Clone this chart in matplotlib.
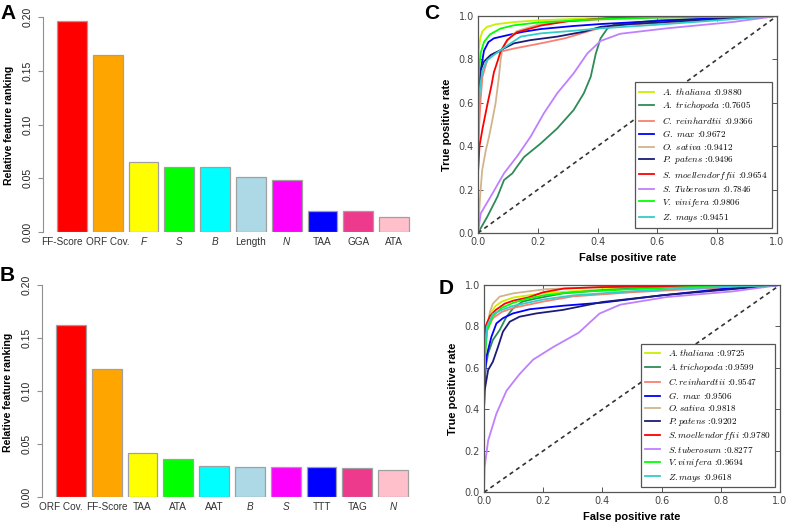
import matplotlib
matplotlib.use("Agg")
import matplotlib.pyplot as plt
import matplotlib.transforms as mtransforms

W, H = 796, 522

# --- panels A and B: feature ranking bars ---
a_labels = ["FF-Score", "ORF Cov.", "F", "S", "B", "Length", "N", "TAA", "GGA", "ATA"]
a_values = [0.197, 0.1646, 0.0649, 0.0606, 0.0602, 0.0516, 0.0481, 0.0199, 0.0193, 0.0140]
b_labels = ["ORF Cov.", "FF-Score", "TAA", "ATA", "AAT", "B", "S", "TTT", "TAG", "N"]
b_values = [0.1623, 0.1204, 0.0415, 0.0355, 0.0289, 0.0286, 0.0283, 0.0280, 0.0270, 0.0255]
italic_feats = ["F", "S", "B", "N"]
bar_colors = ["#FF0000", "#FFA500", "#FFFF00", "#00FF00", "#00FFFF",
              "#ADD8E6", "#FF00FF", "#0000FF", "#EE3A8C", "#FFC0CB"]
bar_ticks = [0.0, 0.05, 0.10, 0.15, 0.20]

# --- panels C and D: ROC curves, (fpr, tpr) points ---
c_species = ["A.\\ thaliana", "A.\\ trichopoda", "C.\\ reinhardtii", "G.\\ max", "O.\\ sativa",
             "P.\\ patens", "S.\\ moellendorffii", "S.\\ Tuberosum", "V.\\ vinifera", "Z.\\ mays"]
c_auc = ["0.9880", "0.7605", "0.9366", "0.9672", "0.9412", "0.9496", "0.9654", "0.7846", "0.9806", "0.9451"]
d_species = ["A.thaliana", "A.trichopoda", "C.reinhardtii", "G.\\ max", "O.sativa",
             "P.patens", "S.moellendorffii", "S.tuberosum", "V.vinifera", "Z.mays"]
d_auc = ["0.9725", "0.9599", "0.9547", "0.9506", "0.9818", "0.9202", "0.9780", "0.8277", "0.9694", "0.9618"]
roc_colors = ["#ccee00", "#2e8b57", "#fa8072", "#0000ff", "#d2b48c",
              "#1c1c78", "#ff0000", "#bf80ff", "#00ff00", "#33cccc"]

C_ATH = [(0, 0), (0, 0.75), (0.003, 0.85), (0.008, 0.9), (0.015, 0.93), (0.03, 0.95), (0.06, 0.962),
         (0.12, 0.972), (0.2, 0.98), (0.35, 0.988), (0.5, 0.993), (0.7, 0.997), (1, 1)]
C_ATR = [(0, 0), (0.031, 0.075), (0.065, 0.167), (0.087, 0.244), (0.115, 0.275), (0.13, 0.305),
         (0.154, 0.35), (0.21, 0.413), (0.265, 0.482), (0.32, 0.567), (0.354, 0.644), (0.377, 0.72),
         (0.394, 0.827), (0.41, 0.897), (0.433, 0.943), (0.455, 0.96), (0.6, 0.98), (0.8, 0.99), (1, 1)]
C_CRE = [(0, 0), (0, 0.25), (0.004, 0.5), (0.009, 0.62), (0.015, 0.72), (0.031, 0.797), (0.053, 0.828),
         (0.076, 0.836), (0.12, 0.85), (0.21, 0.874), (0.29, 0.897), (0.366, 0.928), (0.42, 0.95),
         (0.5, 0.96), (0.7, 0.975), (0.85, 0.99), (1, 1)]
C_GMA = [(0, 0), (0, 0.6), (0.004, 0.68), (0.009, 0.75), (0.02, 0.84), (0.035, 0.88), (0.053, 0.897),
         (0.1, 0.912), (0.15, 0.927), (0.21, 0.94), (0.32, 0.954), (0.41, 0.963), (0.6, 0.977),
         (0.8, 0.99), (1, 1)]
C_OSA = [(0, 0), (0.007, 0.167), (0.014, 0.29), (0.026, 0.38), (0.037, 0.444), (0.048, 0.52),
         (0.059, 0.6), (0.07, 0.72), (0.076, 0.8), (0.081, 0.843), (0.092, 0.874), (0.11, 0.905),
         (0.13, 0.93), (0.2, 0.96), (0.3, 0.975), (0.5, 0.99), (1, 1)]
C_PPA = [(0, 0), (0, 0.55), (0.003, 0.65), (0.009, 0.75), (0.02, 0.79), (0.042, 0.82), (0.076, 0.843),
         (0.12, 0.874), (0.176, 0.889), (0.265, 0.905), (0.355, 0.928), (0.41, 0.95), (0.5, 0.962),
         (0.7, 0.978), (0.85, 0.99), (1, 1)]
C_SMO = [(0, 0), (0, 0.28), (0.005, 0.4), (0.015, 0.48), (0.031, 0.59), (0.045, 0.68), (0.053, 0.74),
         (0.065, 0.79), (0.076, 0.838), (0.098, 0.89), (0.13, 0.925), (0.21, 0.956), (0.3, 0.976),
         (0.43, 0.99), (0.6, 0.995), (1, 1)]
C_STU = [(0, 0), (0.009, 0.09), (0.042, 0.167), (0.087, 0.275), (0.13, 0.352), (0.176, 0.444),
         (0.22, 0.551), (0.265, 0.644), (0.32, 0.736), (0.366, 0.828), (0.41, 0.885), (0.475, 0.918),
         (0.63, 0.943), (0.85, 0.972), (1, 1)]
C_VVI = [(0, 0), (0, 0.65), (0.004, 0.76), (0.009, 0.83), (0.02, 0.88), (0.04, 0.915), (0.075, 0.942),
         (0.12, 0.957), (0.2, 0.97), (0.4, 0.985), (0.6, 0.993), (1, 1)]
C_ZMA = [(0, 0), (0, 0.45), (0.002, 0.57), (0.007, 0.675), (0.015, 0.75), (0.031, 0.797), (0.053, 0.82),
         (0.076, 0.843), (0.109, 0.874), (0.143, 0.905), (0.21, 0.92), (0.32, 0.932), (0.41, 0.943),
         (0.6, 0.96), (0.8, 0.98), (1, 1)]

D_ATH = [(0, 0), (0, 0.6), (0.01, 0.8), (0.02, 0.86), (0.04, 0.9), (0.06, 0.92), (0.1, 0.94),
         (0.2, 0.96), (0.4, 0.98), (0.6, 0.99), (1, 1)]
D_ATR = [(0, 0), (0, 0.4), (0.005, 0.6), (0.014, 0.67), (0.03, 0.735), (0.053, 0.783), (0.076, 0.847),
         (0.098, 0.887), (0.13, 0.92), (0.177, 0.935), (0.267, 0.96), (0.4, 0.975), (0.6, 0.99), (1, 1)]
D_CRE = [(0, 0), (0, 0.6), (0.01, 0.78), (0.03, 0.84), (0.06, 0.87), (0.1, 0.89), (0.2, 0.92),
         (0.3, 0.945), (0.5, 0.965), (0.7, 0.98), (1, 1)]
D_GMA = [(0, 0), (0, 0.5), (0.008, 0.654), (0.025, 0.75), (0.042, 0.815), (0.064, 0.84), (0.098, 0.863),
         (0.154, 0.883), (0.267, 0.9), (0.4, 0.915), (0.6, 0.95), (0.7, 0.965), (0.8, 0.98), (1, 1)]
D_OSA = [(0, 0), (0, 0.5), (0.005, 0.7), (0.012, 0.8), (0.02, 0.87), (0.03, 0.91), (0.053, 0.944),
         (0.1, 0.96), (0.154, 0.97), (0.21, 0.98), (0.4, 0.99), (0.6, 0.995), (1, 1)]
D_PPA = [(0, 0), (0, 0.4), (0.002, 0.49), (0.014, 0.59), (0.03, 0.63), (0.047, 0.70), (0.064, 0.775),
         (0.087, 0.823), (0.12, 0.847), (0.177, 0.863), (0.267, 0.88), (0.4, 0.918), (0.6, 0.95),
         (0.8, 0.975), (1, 1)]
D_SMO = [(0, 0), (0, 0.7), (0.005, 0.8), (0.02, 0.85), (0.04, 0.88), (0.07, 0.91), (0.1, 0.925),
         (0.15, 0.94), (0.2, 0.965), (0.27, 0.983), (0.4, 0.99), (0.7, 0.996), (1, 1)]
D_STU = [(0, 0), (0.002, 0.12), (0.014, 0.25), (0.042, 0.38), (0.076, 0.49), (0.12, 0.57),
         (0.166, 0.64), (0.233, 0.70), (0.32, 0.77), (0.39, 0.862), (0.46, 0.905), (0.617, 0.942),
         (0.84, 0.969), (1, 1)]
D_VVI = [(0, 0), (0, 0.6), (0.01, 0.78), (0.03, 0.85), (0.06, 0.89), (0.1, 0.915), (0.15, 0.935),
         (0.2, 0.95), (0.3, 0.965), (0.5, 0.98), (0.7, 0.99), (1, 1)]
D_ZMA = [(0, 0), (0, 0.65), (0.01, 0.8), (0.03, 0.86), (0.06, 0.88), (0.1, 0.9), (0.2, 0.93),
         (0.3, 0.95), (0.5, 0.97), (0.7, 0.985), (1, 1)]

curves_c = [C_ATH, C_ATR, C_CRE, C_GMA, C_OSA, C_PPA, C_SMO, C_STU, C_VVI, C_ZMA]
curves_d = [D_ATH, D_ATR, D_CRE, D_GMA, D_OSA, D_PPA, D_SMO, D_STU, D_VVI, D_ZMA]

plt.rcParams['mathtext.fontset'] = 'cm'
SANS = ['Liberation Sans', 'DejaVu Sans']

fig = plt.figure(figsize=(W / 100, H / 100), dpi=100)


def px_axes(l, t, r, b):
    return fig.add_axes([l / W, 1 - b / H, (r - l) / W, (b - t) / H])


def bar_panel(box, labels, values, ylab_x, ylab_y):
    ax = px_axes(*box)
    pos = list(range(len(values)))
    ax.bar(pos, values, width=1 / 1.2, color=bar_colors, edgecolor="#a0a0a0", linewidth=0.9)
    ax.set_xlim(-0.81, 9.81)
    ax.set_ylim(0, 0.2)
    for s in ["top", "right", "bottom"]:
        ax.spines[s].set_visible(False)
    ax.spines["left"].set_color("#909090")
    ax.set_yticks(bar_ticks)
    ax.set_yticklabels(["%.2f" % t for t in bar_ticks], rotation=90, va="center",
                       fontsize=7.5, family=SANS, color="#222222")
    ax.tick_params(axis="y", length=3.5, color="#909090", pad=4)
    ax.set_xticks([])
    # feature names under the bars; the first one sits a little to the left, as in the figure
    trans = mtransforms.blended_transform_factory(ax.transData, ax.transAxes)
    for i, lab in enumerate(labels):
        t = ax.text(i, -0.025, lab, transform=trans, ha="center", va="top",
                    fontsize=7.2, family=SANS, color="#333333",
                    style="italic" if lab in italic_feats else "normal")
        if i == 0:
            t.set_transform(trans + mtransforms.ScaledTranslation(-10.5 / 100, 0, fig.dpi_scale_trans))
    fig.text(ylab_x / W, 1 - ylab_y / H, "Relative feature ranking", rotation=90,
             ha="center", va="center", fontsize=7.6, weight="bold", family=SANS)
    return ax


def roc_panel(box, curves, species, aucs, xlab_y, ylab_x):
    ax = px_axes(*box)
    for pts, name, auc, col in zip(curves, species, aucs, roc_colors):
        xs = [p[0] for p in pts]
        ys = [p[1] for p in pts]
        ax.plot(xs, ys, color=col, lw=1.3, label=r"$%s$ :%s" % (name, auc))
    ax.plot([0, 1], [0, 1], color="#333333", lw=1.2, ls=(0, (2.5, 2.2)))
    ax.set_xlim(0, 1)
    ax.set_ylim(0, 1)
    ticks = [0.0, 0.2, 0.4, 0.6, 0.8, 1.0]
    ax.set_xticks(ticks)
    ax.set_yticks(ticks)
    ax.tick_params(direction="in", top=True, right=True, length=3.5, width=0.7,
                   labelsize=7, labelcolor="#444444", color="#555555", pad=3)
    for s in ax.spines.values():
        s.set_color("#555555")
        s.set_linewidth(0.9)
    leg = ax.legend(loc="lower right", bbox_to_anchor=(0.983, 0.024), borderaxespad=0,
                    prop={"family": ["cmr10", "DejaVu Serif"], "size": 6.6},
                    fancybox=False, framealpha=1, edgecolor="#555555",
                    handlelength=1.7, handletextpad=0.9, labelspacing=0.27, borderpad=0.4)
    leg.get_frame().set_linewidth(0.9)
    x0, y0, x1, y1 = box
    fig.text(((x0 + x1) / 2) / W, 1 - xlab_y / H, "False positive rate", ha="center", va="center",
             fontsize=8, weight="bold", family=SANS)
    fig.text(ylab_x / W, 1 - ((y0 + y1) / 2) / H, "True positive rate", rotation=90,
             ha="center", va="center", fontsize=8, weight="bold", family=SANS)
    return ax


bar_panel((43, 17.3, 423, 232), a_labels, a_values, 9, 125)
bar_panel((42, 285, 422, 497), b_labels, b_values, 8, 392)
roc_panel((478, 16, 777, 233), curves_c, c_species, c_auc, 258, 447)
roc_panel((484, 285, 780, 492.3), curves_d, d_species, d_auc, 517, 453)

for lab, x, y in [("A", 0, 4), ("B", 0, 266), ("C", 424, 4), ("D", 439, 279)]:
    fig.text(x / W, 1 - y / H, lab, ha="left", va="top", fontsize=15, weight="bold", family=SANS)

fig.savefig("out.png", dpi=100)
